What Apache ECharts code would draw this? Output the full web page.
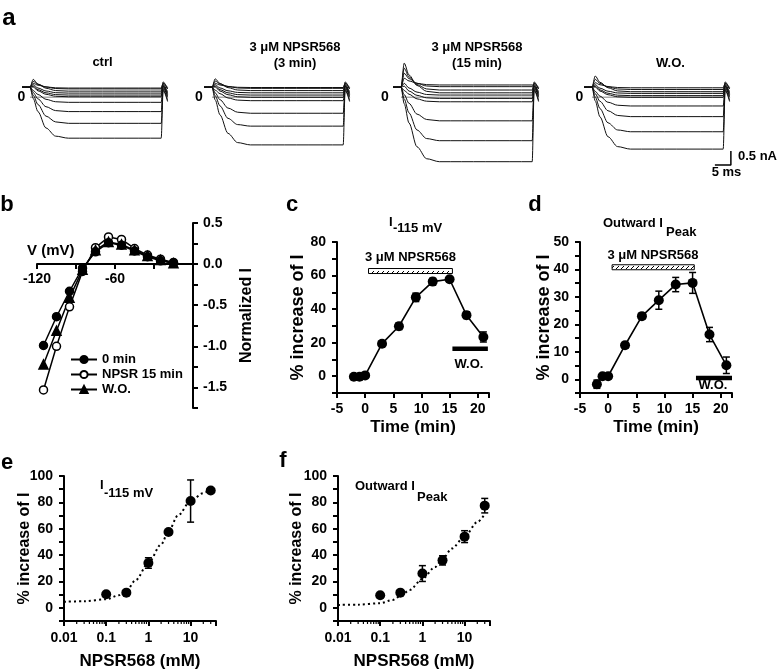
<!DOCTYPE html>
<html>
<head>
<meta charset="utf-8">
<script src="https://cdn.jsdelivr.net/npm/echarts@6/dist/echarts.min.js"></script>
<style>
html, body { margin: 0; background: #fff; }
#fig { width: 777px; height: 671px; }
</style>
</head>
<body>
<div id="fig"></div>
<script>
var FONT = '"Liberation Sans", Arial, sans-serif';

// ---- a: current traces, ms / nA ----
var traceT = [-2.5, 0, 1, 2.5, 5, 8, 12, 41, 41.6, 43];
var inwardShape = [0, 0, 0.22, 0.48, 0.8, 0.96, 1, 1];
// part of (peak - steady) still left on the outward hump, from t = 1 ms on
var humpShape = [1, 0.6, 0.25, 0.05, 0, 0];
var holdI = 0.36;
var tailIn = [[0.25, -0.15], [0.3, -0.1], [0.35, 0.0], [0.4, 0.1]];
var tailOut = [[0.55, 0.3], [0.5, 0.35], [0.48, 0.3], [0.45, 0.2], [0.42, 0.15], [0.4, 0.05]];

var ctrlIn = [-1.46, -0.93, -0.51, -0.18];
var ctrlPeak = [0.64, 0.57, 0.5, 0.45, 0.4, 0.37];
var ctrlOut = [0.22, 0.3, 0.33, 0.15, 0.08, 0.02];
var min3In = [-1.70, -1.03, -0.57, -0.12];
var min3Peak = [0.66, 0.58, 0.5, 0.45, 0.4, 0.37];
var min3Out = [0.24, 0.32, 0.35, 0.16, 0.08, 0.0];
var min15In = [-2.30, -1.55, -0.84, -0.16];
var min15Peak = [1.22, 1.04, 0.86, 0.68, 0.5, 0.4];
var min15Out = [0.16, 0.26, 0.38, 0.44, 0.08, -0.04];
var woIn = [-1.85, -1.23, -0.69, -0.31];
var woPeak = [0.76, 0.64, 0.52, 0.45, 0.4, 0.37];
var woOut = [0.2, 0.28, 0.34, 0.14, 0.06, 0.0];
var scaleMs = 5, scaleNa = 0.5;

// ---- b: I-V ----
var ivV = [-115, -105, -95, -85, -75, -65, -55, -45, -35, -25, -15];
var iv0 = [-0.99, -0.64, -0.33, -0.05, 0.15, 0.26, 0.23, 0.16, 0.09, 0.04, 0.01];
var ivNpsr = [-1.53, -1.0, -0.52, -0.09, 0.2, 0.33, 0.3, 0.19, 0.11, 0.06, 0.02];
var ivWo = [-1.22, -0.81, -0.41, -0.07, 0.17, 0.27, 0.24, 0.17, 0.1, 0.05, 0.01];

// ---- c, d: time course ----
var timeMin = [-2, -1, 0, 3, 6, 9, 12, 15, 18, 21];
var cMean = [-0.3, -0.3, 0.5, 19.4, 29.8, 47, 56.4, 57.8, 36.4, 23.4];
var cSem = [1, 1, 1, 1.5, 2, 2.5, 2, 1.5, 2, 3];
var dMean = [-1.8, 1.1, 1.1, 12.4, 23, 28.8, 34.5, 35.1, 16.3, 5.1];
var dSem = [1.5, 0.8, 0.8, 1, 1, 3.3, 2.6, 3.8, 2.6, 3];
var cDrug = [0.6, 15.5], cDrugY = 62.7, cWash = [15.5, 21.8], cWashY = 16.4;
var dDrug = [0.7, 15.3], dDrugY = 40.8, dWash = [15.6, 22], dWashY = 0.5;

// ---- e, f: concentration-response ----
var conc = [0.1, 0.3, 1, 3, 10, 30];
var eMean = [10.3, 11.5, 34, 57.5, 81, 89];
var eSem = [1, 1, 4, 1.5, 16, 1];
var fMean = [9.5, 11.5, 26, 36, 54, 77.5];
var fSem = [1, 1, 6, 3.5, 4.5, 5.5];
var fitConc = [0.01, 0.03, 0.1, 0.2, 0.3, 0.5, 1, 2, 3, 5, 10, 20, 30];
var eFit = [4.6, 5, 6.5, 9.5, 13, 21, 34, 48, 58, 70, 81, 87, 90];
var fFit = [2.2, 2.4, 3.5, 6, 9, 13.5, 22, 31, 37, 45, 54, 65, 71];
var logMinor = [0.02, 0.03, 0.04, 0.05, 0.06, 0.07, 0.08, 0.09, 0.2, 0.3, 0.4, 0.5, 0.6, 0.7, 0.8, 0.9,
                2, 3, 4, 5, 6, 7, 8, 9, 20, 30];

var chart = echarts.init(document.getElementById('fig'));

var grids = [], xAxes = [], yAxes = [], series = [];

function axis(extra) {
    var base = {
        axisLine: {show: true, onZero: false, lineStyle: {color: '#000', width: 2}},
        axisTick: {show: true, length: 5, lineStyle: {color: '#000', width: 2}},
        axisLabel: {color: '#000', fontFamily: FONT, fontWeight: 'bold', fontSize: 14},
        splitLine: {show: false},
        nameLocation: 'middle',
        nameMoveOverlap: false,
        nameTextStyle: {color: '#000', fontFamily: FONT, fontWeight: 'bold', fontSize: 17}
    };
    Object.keys(extra).forEach(function (k) {
        if (base[k] && typeof base[k] === 'object' && typeof extra[k] === 'object') {
            base[k] = Object.assign({}, base[k], extra[k]);
        } else {
            base[k] = extra[k];
        }
    });
    return base;
}

function pairs(xs, ys) {
    return xs.map(function (x, i) { return [x, ys[i]]; });
}

// panel a
var PX_MS = 3.2, PX_NA = 28, ZERO_Y = 97.3;
var tracePanels = [
    {onset: 30, inward: ctrlIn, peak: ctrlPeak, out: ctrlOut},
    {onset: 212, inward: min3In, peak: min3Peak, out: min3Out},
    {onset: 401, inward: min15In, peak: min15Peak, out: min15Out},
    {onset: 592, inward: woIn, peak: woPeak, out: woOut}
];

function traceLine(g, vals, color, width) {
    return {
        type: 'line', xAxisIndex: g, yAxisIndex: g, data: pairs(traceT, vals),
        showSymbol: false, smooth: 0.3, smoothMonotone: 'x', silent: true,
        lineStyle: {color: color || '#111', width: width || 1}
    };
}

tracePanels.forEach(function (p, g) {
    grids.push({left: p.onset - 2.5 * PX_MS, top: ZERO_Y - 1.4 * PX_NA, width: 46.5 * PX_MS, height: 4 * PX_NA});
    xAxes.push({type: 'value', gridIndex: g, min: -2.5, max: 44, show: false});
    yAxes.push({type: 'value', gridIndex: g, min: -2.6, max: 1.4, show: false});
    series.push({
        type: 'line', xAxisIndex: g, yAxisIndex: g, data: [[0, 0], [41, 0]],
        showSymbol: false, silent: true, lineStyle: {color: '#aaa', width: 1.5}
    });
    p.inward.forEach(function (s, i) {
        var v = inwardShape.map(function (f) { return holdI + f * (s - holdI); }).concat(tailIn[i]);
        series.push(traceLine(g, v));
    });
    p.peak.forEach(function (pk, i) {
        var s = p.out[i];
        var v = [holdI, holdI].concat(humpShape.map(function (h) { return s + h * (pk - s); })).concat(tailOut[i]);
        series.push(traceLine(g, v));
    });
});

// scale bar, in the W.O. panel's units
var barT = 43.4, barI = -2.42;
series.push({
    type: 'line', xAxisIndex: 3, yAxisIndex: 3, showSymbol: false, silent: true,
    data: [[barT - scaleMs, barI], [barT, barI], [barT, barI + scaleNa]],
    lineStyle: {color: '#000', width: 1.5}
});

// panel b (its V axis is drawn by grid 9 below, which ends at I = 0)
grids.push({left: 37, top: 223, width: 156, height: 185});
xAxes.push({type: 'value', gridIndex: 4, min: -120, max: 0, show: false});
yAxes.push(axis({
    type: 'value', gridIndex: 4, position: 'right', min: -1.75, max: 0.5, interval: 0.25,
    axisLabel: {margin: 10, formatter: function (v) {
        return Math.abs(v * 2 - Math.round(v * 2)) < 1e-6 ? v.toFixed(1) : '';
    }},
    name: 'Normalized I', nameRotate: 90, nameGap: 46, nameTextStyle: {fontSize: 16}
}));

function ivSeries(name, data, symbol, size, fill) {
    return {
        name: name, type: 'line', xAxisIndex: 4, yAxisIndex: 4, data: pairs(ivV, data),
        symbol: symbol, symbolSize: size, z: 3,
        lineStyle: {color: '#000', width: 1.5},
        itemStyle: {color: fill, borderColor: '#000', borderWidth: 1.5}
    };
}
series.push(ivSeries('NPSR 15 min', ivNpsr, 'circle', 8, '#fff'));
series.push(ivSeries('W.O.', ivWo, 'triangle', 9, '#000'));
series.push(ivSeries('0 min', iv0, 'circle', 8, '#000'));

// panels c, d
function timeAxes(g, left, yMax, yMin, yStep, yLabelStep, titleGap) {
    grids.push({left: left, top: 242, width: 152, height: 151});
    xAxes.push(axis({
        type: 'value', gridIndex: g, min: -5, max: 22, interval: 5,
        axisLabel: {margin: 9, formatter: function (v) { return v % 5 === 0 ? v : ''; }},
        name: 'Time (min)', nameGap: 26
    }));
    yAxes.push(axis({
        type: 'value', gridIndex: g, min: yMin, max: yMax, interval: yStep,
        axisLabel: {margin: 11, formatter: function (v) { return (v >= 0 && v % yLabelStep === 0) ? v : ''; }},
        name: '% increase of I', nameGap: titleGap, nameTextStyle: {fontSize: 18}
    }));
}

function errSeries(g, xs, ys, es) {
    return {
        type: 'custom', xAxisIndex: g, yAxisIndex: g, z: 2, silent: true,
        data: xs.map(function (x, i) { return [x, ys[i] - es[i], ys[i] + es[i]]; }),
        renderItem: function (params, api) {
            var x = api.value(0);
            var lo = api.coord([x, api.value(1)]);
            var hi = api.coord([x, api.value(2)]);
            var w = 3.5, st = {stroke: '#000', lineWidth: 1.5};
            return {type: 'group', children: [
                {type: 'line', shape: {x1: lo[0], y1: lo[1], x2: hi[0], y2: hi[1]}, style: st},
                {type: 'line', shape: {x1: lo[0] - w, y1: lo[1], x2: lo[0] + w, y2: lo[1]}, style: st},
                {type: 'line', shape: {x1: hi[0] - w, y1: hi[1], x2: hi[0] + w, y2: hi[1]}, style: st}
            ]};
        }
    };
}

function pointSeries(g, xs, ys, withLine) {
    return {
        type: 'line', xAxisIndex: g, yAxisIndex: g, data: pairs(xs, ys), z: 3, silent: true,
        symbol: 'circle', symbolSize: 10, itemStyle: {color: '#000'},
        lineStyle: {color: '#000', width: withLine ? 1.6 : 0, opacity: withLine ? 1 : 0}
    };
}

var hatch = document.createElement('canvas');
hatch.width = 5; hatch.height = 5;
(function () {
    var ctx = hatch.getContext('2d');
    ctx.fillStyle = '#fff';
    ctx.fillRect(0, 0, 5, 5);
    ctx.strokeStyle = '#000';
    ctx.lineWidth = 1;
    ctx.beginPath();
    ctx.moveTo(1, 4);
    ctx.lineTo(4, 1);
    ctx.stroke();
})();

function drugBar(g, span, yv) {
    return {
        type: 'custom', xAxisIndex: g, yAxisIndex: g, silent: true, z: 2,
        data: [[span[0], span[1], yv]],
        renderItem: function (params, api) {
            var a = api.coord([api.value(0), api.value(2)]);
            var b = api.coord([api.value(1), api.value(2)]);
            return {type: 'rect', shape: {x: a[0], y: a[1] - 2.5, width: b[0] - a[0], height: 5},
                style: {fill: {image: hatch, repeat: 'repeat'}, stroke: '#000', lineWidth: 1}};
        }
    };
}

function washBar(g, span, yv) {
    return {
        type: 'line', xAxisIndex: g, yAxisIndex: g, silent: true, showSymbol: false,
        data: [[span[0], yv], [span[1], yv]], lineStyle: {color: '#000', width: 4.5}
    };
}

timeAxes(5, 337, 80, -10, 10, 20, 30);
series.push(errSeries(5, timeMin, cMean, cSem));
series.push(pointSeries(5, timeMin, cMean, true));
series.push(drugBar(5, cDrug, cDrugY));
series.push(washBar(5, cWash, cWashY));

timeAxes(6, 580, 50, -5, 5, 10, 27);
series.push(errSeries(6, timeMin, dMean, dSem));
series.push(pointSeries(6, timeMin, dMean, true));
series.push(drugBar(6, dDrug, dDrugY));
series.push(washBar(6, dWash, dWashY));

// panels e, f
function doseAxes(g, left, titleGap) {
    grids.push({left: left, top: 476, width: 152, height: 150});
    xAxes.push(axis({
        type: 'log', logBase: 10, gridIndex: g, min: 0.01, max: 40,
        axisLabel: {margin: 10, formatter: function (v) {
            var l = Math.log10(v);
            return Math.abs(l - Math.round(l)) < 1e-6 ? String(Math.pow(10, Math.round(l))) : '';
        }},
        name: 'NPSR568 (mM)', nameGap: 32
    }));
    yAxes.push(axis({
        type: 'value', gridIndex: g, min: -10, max: 100, interval: 10,
        axisLabel: {margin: 11, formatter: function (v) { return (v >= 0 && v % 20 === 0) ? v : ''; }},
        name: '% increase of I', nameGap: titleGap, nameTextStyle: {fontSize: 16}
    }));
}

function minorTicks(g) {
    return {
        type: 'custom', xAxisIndex: g, yAxisIndex: g, silent: true, clip: false,
        data: logMinor.map(function (v) { return [v, -10]; }),
        renderItem: function (params, api) {
            var p = api.coord([api.value(0), api.value(1)]);
            return {type: 'line', shape: {x1: p[0], y1: p[1], x2: p[0], y2: p[1] + 3},
                style: {stroke: '#000', lineWidth: 1.2}};
        }
    };
}

function fitSeries(g, ys) {
    return {
        type: 'line', xAxisIndex: g, yAxisIndex: g, data: pairs(fitConc, ys), silent: true,
        showSymbol: false, smooth: 0.3, smoothMonotone: 'x',
        lineStyle: {color: '#000', width: 2, type: [2, 3]}
    };
}

doseAxes(7, 64, 31);
series.push(minorTicks(7));
series.push(fitSeries(7, eFit));
series.push(errSeries(7, conc, eMean, eSem));
series.push(pointSeries(7, conc, eMean, false));

doseAxes(8, 338, 33);
series.push(minorTicks(8));
series.push(fitSeries(8, fFit));
series.push(errSeries(8, conc, fMean, fSem));
series.push(pointSeries(8, conc, fMean, false));

// grid 9: the V axis of panel b, sitting on I = 0
grids.push({left: 37, top: 223, width: 156, height: 41});
xAxes.push(axis({
    type: 'value', gridIndex: 9, min: -120, max: 0, interval: 30,
    axisLabel: {margin: 8, formatter: function (v) { return (v === -120 || v === -60) ? v : ''; }}
}));
yAxes.push({type: 'value', gridIndex: 9, min: 0, max: 0.5, show: false});

function txt(s, x, y, size, align) {
    var a = align || 'center';
    return {type: 'text', x: x, y: y, silent: true, z: 50, style: {
        text: s, font: 'bold ' + size + 'px ' + FONT, fill: '#000',
        align: a, verticalAlign: 'middle', textAlign: a, textVerticalAlign: 'middle'
    }};
}

var texts = [
    txt('a', 9, 18, 24),
    txt('ctrl', 102.5, 62.5, 13),
    txt('3 μM NPSR568', 295, 47, 13), txt('(3 min)', 295, 63, 13),
    txt('3 μM NPSR568', 477, 47, 13), txt('(15 min)', 477, 63, 13),
    txt('W.O.', 670.5, 63, 13),
    txt('0', 21.5, 97.5, 14), txt('0', 199, 97.5, 14), txt('0', 385, 97.5, 14), txt('0', 579.5, 97.5, 14),
    txt('0.5 nA', 738, 156, 13, 'left'), txt('5 ms', 726.5, 172, 13),
    txt('b', 7, 205, 22),
    txt('V (mV)', 27, 251, 15, 'left'),
    txt('c', 292, 205, 22),
    txt('I', 389, 222, 13, 'left'), txt('-115 mV', 393, 228, 13, 'left'),
    txt('3 μM NPSR568', 410.5, 257.5, 13), txt('W.O.', 469, 364, 13),
    txt('d', 535, 205, 22),
    txt('Outward I', 603, 223, 13, 'left'), txt('Peak', 666, 232, 13, 'left'),
    txt('3 μM NPSR568', 653, 255, 13), txt('W.O.', 713, 385, 13),
    txt('e', 7, 463, 22),
    txt('I', 100, 485, 13, 'left'), txt('-115 mV', 104, 493, 13, 'left'),
    txt('f', 283, 461, 22),
    txt('Outward I', 355, 486, 13, 'left'), txt('Peak', 417, 497, 13, 'left')
];

var option = {
    backgroundColor: '#fff',
    animation: false,
    grid: grids,
    xAxis: xAxes,
    yAxis: yAxes,
    legend: {
        data: ['0 min', 'NPSR 15 min', 'W.O.'],
        orient: 'vertical', left: 65, top: 348, itemGap: 2,
        itemWidth: 26, itemHeight: 9,
        textStyle: {color: '#000', fontFamily: FONT, fontWeight: 'bold', fontSize: 13}
    },
    graphic: {elements: texts},
    series: series
};

chart.setOption(option);
</script>
</body>
</html>
